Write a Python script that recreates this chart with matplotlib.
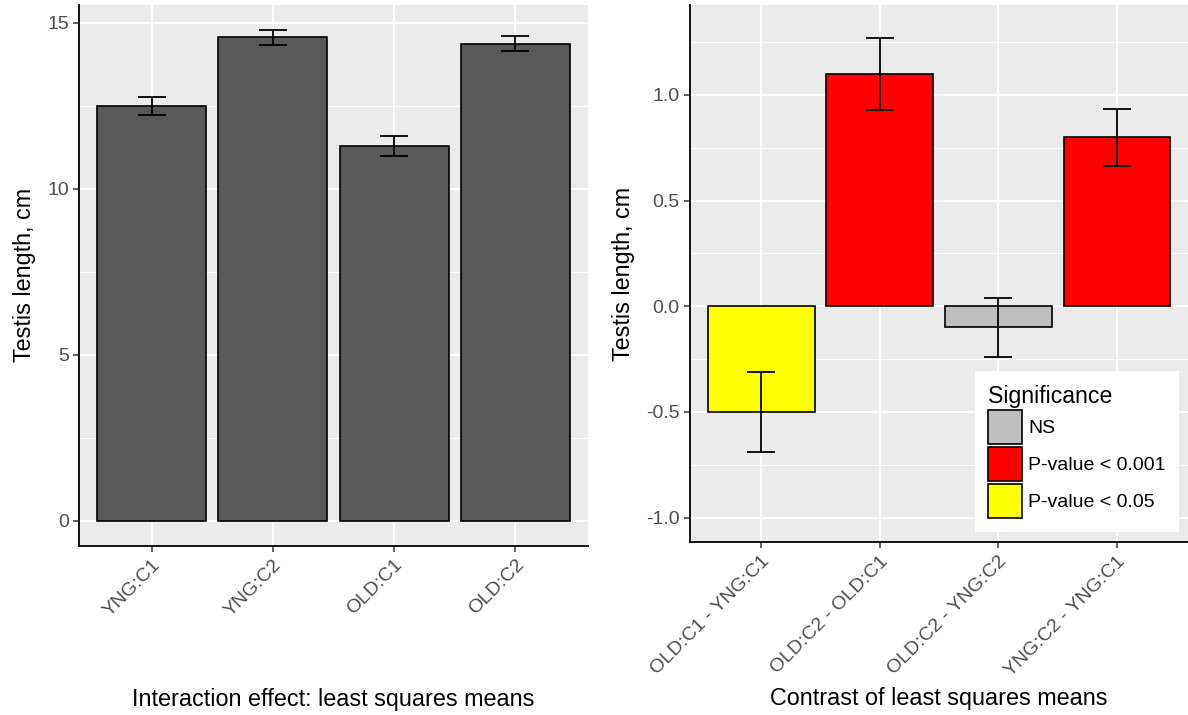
import matplotlib
matplotlib.use("Agg")
import matplotlib.pyplot as plt
from matplotlib.patches import Patch
import numpy as np

plt.rcParams['font.family'] = ['Liberation Sans', 'DejaVu Sans']

# Interaction effect: least squares means
groups = ["YNG:C1", "YNG:C2", "OLD:C1", "OLD:C2"]
means = [12.5, 14.57, 11.3, 14.38]
means_se = [0.27, 0.22, 0.30, 0.23]

# Contrasts of least squares means
contrasts = ["OLD:C1 - YNG:C1", "OLD:C2 - OLD:C1", "OLD:C2 - YNG:C2", "YNG:C2 - YNG:C1"]
diffs = [-0.5, 1.1, -0.1, 0.8]
diffs_se = [0.19, 0.17, 0.14, 0.135]
significance = ["P-value < 0.05", "P-value < 0.001", "NS", "P-value < 0.001"]

sig_levels = ["NS", "P-value < 0.001", "P-value < 0.05"]
sig_colors = {"NS": "#BEBEBE", "P-value < 0.001": "#FF0000", "P-value < 0.05": "#FFFF00"}

BG = "#EBEBEB"
TICK_COL = "#4D4D4D"
W, H = 1188, 715

fig = plt.figure(figsize=(W / 100, H / 100), dpi=100)
ax1 = fig.add_axes([79 / W, (H - 545.5) / H, (588 - 79) / W, (545.5 - 5) / H])
ax2 = fig.add_axes([690 / W, (H - 542) / H, (W - 690) / W, (542 - 5) / H])


def style(ax, yticks, minor, ylim, labels):
    ax.set_facecolor(BG)
    n = len(labels)
    x = np.arange(1, n + 1)
    ax.set_xlim(0.4, n + 0.6)
    ax.set_ylim(*ylim)
    ax.set_yticks(yticks)
    ax.set_yticks(minor, minor=True)
    ax.set_xticks(x)
    for v in yticks:
        ax.axhline(v, color="white", lw=1.4, zorder=0.5)
    for v in minor:
        ax.axhline(v, color="white", lw=0.7, zorder=0.5)
    for v in x:
        ax.axvline(v, color="white", lw=1.4, zorder=0.5)
    for s in ("top", "right"):
        ax.spines[s].set_visible(False)
    for s in ("left", "bottom"):
        ax.spines[s].set_color("black")
        ax.spines[s].set_linewidth(1.3)
    ax.tick_params(axis="both", which="major", length=4.3, width=1.1,
                   color="#333333", labelsize=14, labelcolor=TICK_COL)
    ax.tick_params(axis="y", which="minor", length=0)
    ax.tick_params(axis="y", pad=3)
    ax.set_xticklabels(labels, rotation=45, ha="right", va="top",
                       rotation_mode="anchor")
    return x


# Left panel
x1 = style(ax1, [0, 5, 10, 15], [2.5, 7.5, 12.5], (-0.74, 15.54), groups)
ax1.set_yticklabels(["0", "5", "10", "15"])
ax1.bar(x1, means, width=0.9, color="#595959", edgecolor="black", linewidth=1.2, zorder=2)
ax1.errorbar(x1, means, yerr=means_se, fmt="none", ecolor="black",
             elinewidth=1.3, capsize=10.4, capthick=1.3, zorder=3)
ax1.set_ylabel("Testis length, cm", fontsize=16.8, labelpad=8)
ax1.set_xlabel("Interaction effect: least squares means", fontsize=16.8, labelpad=49)

# Right panel
x2 = style(ax2, [-1.0, -0.5, 0.0, 0.5, 1.0], [-0.75, -0.25, 0.25, 0.75, 1.25],
           (-1.115, 1.425), contrasts)
ax2.set_yticklabels(["-1.0", "-0.5", "0.0", "0.5", "1.0"])
ax2.bar(x2, diffs, width=0.9, color=[sig_colors[s] for s in significance],
        edgecolor="black", linewidth=1.2, zorder=2)
ax2.errorbar(x2, diffs, yerr=diffs_se, fmt="none", ecolor="black",
             elinewidth=1.3, capsize=10.4, capthick=1.3, zorder=3)
ax2.set_ylabel("Testis length, cm", fontsize=16.8, labelpad=8)
ax2.set_xlabel("Contrast of least squares means", fontsize=16.8, labelpad=5.5)

handles = [Patch(facecolor=sig_colors[s], edgecolor="black", linewidth=1.2, label=s)
           for s in sig_levels]
leg = ax2.legend(handles=handles, title="Significance", loc="lower right",
                 bbox_to_anchor=(0.982, 0.019), borderaxespad=0,
                 fontsize=14, title_fontsize=16.7, frameon=True, fancybox=False,
                 facecolor="white", edgecolor="white", framealpha=1,
                 handlelength=1.75, handleheight=2.31, handletextpad=0.28,
                 labelspacing=0.15, borderpad=0.7, alignment="left")
leg.get_frame().set_linewidth(0)
leg.set_zorder(5)

fig.savefig("out.png", dpi=100)
